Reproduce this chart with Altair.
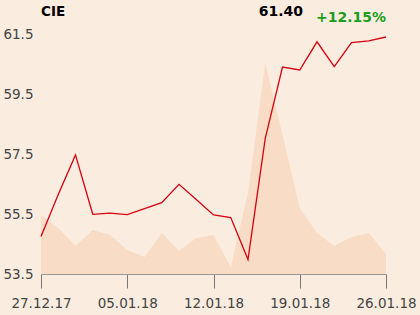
import altair as alt
import pandas as pd

# data
idx = list(range(21))
price = [54.75, 56.15, 57.47, 55.49, 55.53, 55.48, 55.68, 55.88, 56.49, 55.98,
         55.47, 55.38, 53.98, 58.02, 60.40, 60.30, 61.24, 60.41, 61.21, 61.27, 61.40]
volume = [59, 46, 28, 44, 39, 24, 17, 41, 23, 36,
          39, 7, 81, 211, 139, 66, 41, 28, 37, 41, 20]
tick_pos = [0, 5, 10, 15, 20]
tick_labels = ["27.12.17", "05.01.18", "12.01.18", "19.01.18", "26.01.18"]
y_ticks = [53.5, 55.5, 57.5, 59.5, 61.5]
name = "CIE"
last_txt = "61.40"
chg_txt = "+12.15%"

df = pd.DataFrame({"i": idx, "price": price, "vol": volume})

label_expr = "[" + ",".join("'%s'" % s for s in tick_labels) + "][datum.value/5]"

xenc = alt.X("i:Q", scale=alt.Scale(domain=[0, 20], nice=False, zero=False),
             axis=alt.Axis(values=tick_pos, labelExpr=label_expr, title=None,
                           grid=False, domainColor="#999999", tickColor="#777777",
                           tickSize=14, labelPadding=8, labelFontSize=13.5,
                           labelColor="#444444", labelFont="DejaVu Sans",
                           labelFlush=False))

area = alt.Chart(df).mark_area(color="#F8DCC6", opacity=1).encode(
    x=xenc,
    y=alt.Y("vol:Q", scale=alt.Scale(domain=[0, 240], nice=False), axis=None),
)

line = alt.Chart(df).mark_line(color="#D7000F", strokeWidth=1.3).encode(
    x=xenc,
    y=alt.Y("price:Q", scale=alt.Scale(domain=[53.5, 61.5], nice=False, zero=False),
            axis=alt.Axis(values=y_ticks, format=".1f", title=None, domain=False,
                          ticks=False, gridColor="#B4B4B4", gridWidth=1,
                          labelPadding=8, labelFontSize=13.5, labelColor="#444444",
                          labelFont="DejaVu Sans")),
)

t1 = alt.Chart(pd.DataFrame({"t": [name]})).mark_text(
    align="left", baseline="alphabetic", fontSize=13.5, fontWeight="bold",
    font="DejaVu Sans", color="#000000").encode(text="t:N", x=alt.value(0), y=alt.value(-18))
t2 = alt.Chart(pd.DataFrame({"t": [last_txt]})).mark_text(
    align="right", baseline="alphabetic", fontSize=14, fontWeight="bold",
    font="DejaVu Sans", color="#000000").encode(text="t:N", x=alt.value(262), y=alt.value(-18))
t3 = alt.Chart(pd.DataFrame({"t": [chg_txt]})).mark_text(
    align="right", baseline="alphabetic", fontSize=14, fontWeight="bold",
    font="DejaVu Sans", color="#1A9E1A").encode(text="t:N", x=alt.value(345), y=alt.value(-12))

chart = alt.layer(area, line, t1, t2, t3).resolve_scale(y="independent").properties(
    width=345, height=240,
    background="#FBECE0",
    padding={"left": 41, "top": 34, "right": 34, "bottom": 41},
    autosize=alt.AutoSizeParams(type="none"),
).configure_view(stroke=None)

chart.save("out.html", embed_options={"renderer": "svg", "actions": False})
